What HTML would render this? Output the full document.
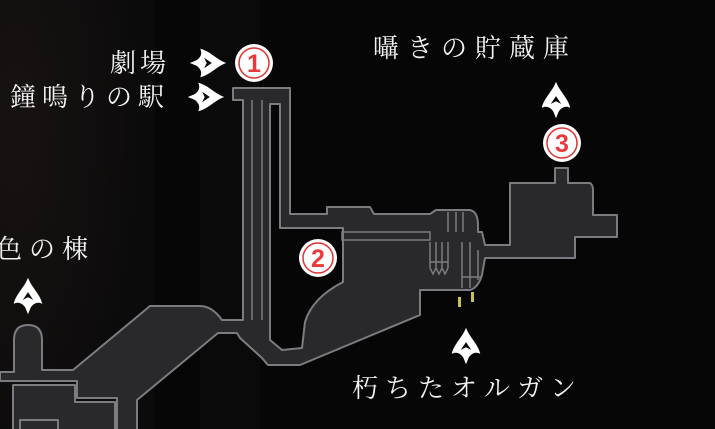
<!DOCTYPE html>
<html><head><meta charset="utf-8"><style>
html,body{margin:0;padding:0;background:#080808;}
svg{display:block}
.t{font-family:"Liberation Serif","Noto Serif CJK SC","Noto Serif CJK JP",serif;fill:#f2f2f2;font-size:26px;}
</style></head><body>
<svg width="715" height="429" viewBox="0 0 715 429" xmlns="http://www.w3.org/2000/svg">
<defs>
<radialGradient id="g1" cx="0.1" cy="0.3" r="0.8"><stop offset="0" stop-color="#171312"/><stop offset="1" stop-color="#0c0b0b"/></radialGradient>
<g id="ar"><path d="M0,-14 C3,-6 9,-2 11,6 C7,4 4,6 2,9 L0,14 L-2,9 C-4,6 -7,4 -11,6 C-9,-2 -3,-6 0,-14 Z M0,-3 L-4,3 L0,1 L4,3 Z" fill="#fff" fill-rule="evenodd"/></g>
</defs>
<rect width="715" height="429" fill="#060606"/>
<rect x="0" y="0" width="155" height="429" fill="url(#g1)"/>
<rect x="200" y="0" width="60" height="429" fill="#0a0a0a"/>
<g fill="#29292b" stroke="#7c7c80" stroke-width="2" stroke-linejoin="round">
<path fill-rule="evenodd" d="M233,88 L290,88 L290,214 L327,214 L327,207 L370,207 L374,214 L430,214 L436,210 L470,210 Q478,212 478,225 L478,232 L482,232 L485,245 L510,245 L510,183 L555,183 L555,168 L568,168 L568,183 L590,183 Q593,185 593,190 L593,215 L617,215 L617,237 L575,237 L575,258 L485,258 L482,275 Q478,288 470,290 L420,290 L420,315 L300,365 L268,365 L262,358 L240,338 L237,333 L218,333 L137,400 L137,432 L117,432 L117,398 L77,398 L77,381 L0,381 L0,372 L14,372 L14,340 Q14,325 28,325 Q42,325 42,340 L42,370 L73,370 L150,306 L200,306 Q212,306 222,320 L243,320 L243,100 L233,100 Z M270,104 L280,104 L280,228 L343,228 L343,282 Q312,298 305,322 L302,348 L282,350 L270,340 Z"/>
<path d="M13,432 L13,385 L75,385 L75,402 L115,402 L115,432"/>
<path d="M20,432 L20,420 L58,420 L58,432" fill="none"/>
</g>
<g stroke="#7c7c80" stroke-width="1.5" fill="none">
<path d="M342,232 L430,232 L430,240 L342,240 Z"/>
<path d="M262,100 L262,320 M252,100 L252,320"/>
<path d="M448,212 L448,232 M456,212 L456,232 M463,212 L463,232"/>
<path d="M430,242 L430,268 M436,242 L436,268 M442,242 L442,268 M448,242 L448,268 M430,262 L448,262 M430,268 L433,274 L436,268 L439,274 L442,268 L445,274 L448,268"/>
<path d="M462,242 L462,288 M470,242 L470,288 M478,250 L478,280 M462,277 L482,277"/>
</g>
<g fill="#c8c050"><rect x="458" y="297" width="3" height="10"/><rect x="471" y="292" width="3" height="10"/></g>
<g><circle cx="254" cy="63" r="19" fill="#fff"/><circle cx="254" cy="63" r="15" fill="none" stroke="#e03030" stroke-width="1.5"/><text x="254" y="72" text-anchor="middle" font-family="Liberation Sans,sans-serif" font-weight="bold" font-size="25" fill="#e83a3a">1</text></g>
<g><circle cx="318" cy="258" r="19" fill="#fff"/><circle cx="318" cy="258" r="15" fill="none" stroke="#e03030" stroke-width="1.5"/><text x="318" y="267" text-anchor="middle" font-family="Liberation Sans,sans-serif" font-weight="bold" font-size="25" fill="#e83a3a">2</text></g>
<g><circle cx="562" cy="143" r="19" fill="#fff"/><circle cx="562" cy="143" r="15" fill="none" stroke="#e03030" stroke-width="1.5"/><text x="562" y="152" text-anchor="middle" font-family="Liberation Sans,sans-serif" font-weight="bold" font-size="25" fill="#e83a3a">3</text></g>
<use href="#ar" transform="translate(208,63) rotate(90) scale(1.3)"/>
<use href="#ar" transform="translate(206,97) rotate(90) scale(1.3)"/>
<use href="#ar" transform="translate(556,100) scale(1.3)"/>
<use href="#ar" transform="translate(28,296) scale(1.3)"/>
<use href="#ar" transform="translate(466,346) scale(1.3)"/>
<text class="t" x="170" y="72" text-anchor="end" letter-spacing="4">劇場</text>
<text class="t" x="170" y="106" text-anchor="end" letter-spacing="6">鐘鳴りの駅</text>
<text class="t" x="373" y="57" letter-spacing="8">囁きの貯蔵庫</text>
<text class="t" x="-4" y="258" letter-spacing="7">色の棟</text>
<text class="t" x="352" y="397" letter-spacing="7">朽ちたオルガン</text>
</svg>
</body></html>
